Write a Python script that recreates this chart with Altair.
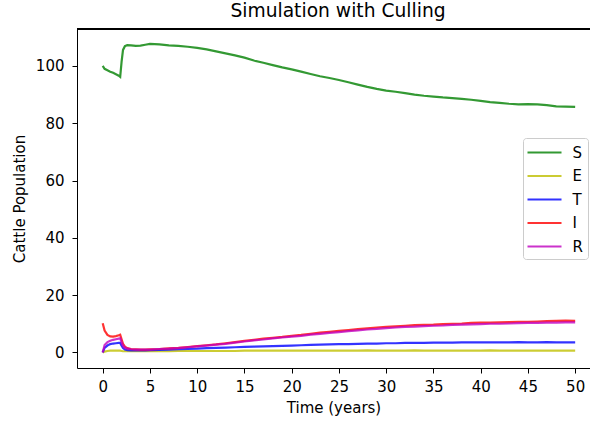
import altair as alt
import pandas as pd

# time grid (years)
t_early = [0, 0.2, 0.5, 0.8, 1.1, 1.4, 1.7, 1.85, 2.0, 2.15, 2.35, 2.6, 3.0, 3.5, 4.0, 4.5]
t_late = [5, 6, 7, 8, 9, 10, 11, 12, 13, 14, 15, 16, 17, 18, 19, 20, 21, 22, 23, 24,
          25, 26, 27, 28, 29, 30, 31, 32, 33, 34, 35, 36, 37, 38, 39, 40, 41, 42, 43, 44,
          45, 46, 47, 48, 49, 50]
t_vals = t_early + t_late

S_vals = [100, 99.0, 98.5, 98.0, 97.6, 97.1, 96.6, 96.2, 101.5, 105.6, 106.9, 107.3, 107.2, 107.0, 107.1, 107.4,
          107.7, 107.5, 107.2, 107.0, 106.7, 106.3, 105.8, 105.1, 104.4, 103.7,
          102.9, 101.9, 101.1, 100.3, 99.5, 98.8, 98.0, 97.2, 96.4, 95.8,
          95.1, 94.3, 93.5, 92.7, 92.0, 91.4, 91.0, 90.5, 90.0, 89.6,
          89.3, 89.0, 88.8, 88.5, 88.2, 87.8, 87.4, 87.1, 86.8, 86.6,
          86.7, 86.6, 86.3, 85.9, 85.8, 85.7]
E_vals = [0.0, 0.3, 0.5, 0.6, 0.6, 0.6, 0.6, 0.6, 0.5, 0.4, 0.4, 0.4, 0.4, 0.4, 0.4, 0.4,
          0.4, 0.4, 0.4, 0.5, 0.5, 0.5, 0.5, 0.5, 0.5, 0.5,
          0.6, 0.6, 0.6, 0.6, 0.6, 0.6, 0.6, 0.6, 0.6, 0.6,
          0.6, 0.6, 0.6, 0.7, 0.6, 0.6, 0.6, 0.6, 0.7, 0.6,
          0.6, 0.6, 0.6, 0.6, 0.6, 0.6, 0.7, 0.6, 0.6, 0.6,
          0.6, 0.6, 0.6, 0.6, 0.6, 0.6]
T_vals = [0.0, 1.6, 2.4, 2.9, 3.1, 3.2, 3.3, 3.3, 2.3, 1.5, 1.0, 0.8, 0.7, 0.7, 0.7, 0.7,
          0.8, 0.9, 1.0, 1.1, 1.2, 1.3, 1.5, 1.6, 1.7, 1.8,
          1.9, 2.0, 2.1, 2.2, 2.3, 2.4, 2.5, 2.6, 2.7, 2.8,
          2.9, 2.9, 3.0, 3.1, 3.1, 3.2, 3.2, 3.3, 3.3, 3.3,
          3.4, 3.4, 3.4, 3.5, 3.5, 3.5, 3.5, 3.5, 3.5, 3.6,
          3.5, 3.5, 3.6, 3.5, 3.5, 3.5]
I_vals = [10.2, 7.6, 6.1, 5.6, 5.5, 5.7, 6.0, 6.2, 4.6, 3.0, 2.0, 1.5, 1.2, 1.1, 1.0, 1.0,
          1.1, 1.2, 1.4, 1.6, 1.9, 2.2, 2.5, 2.8, 3.2, 3.6,
          4.0, 4.4, 4.8, 5.1, 5.4, 5.8, 6.1, 6.5, 6.9, 7.2,
          7.5, 7.8, 8.1, 8.4, 8.7, 8.9, 9.1, 9.3, 9.5, 9.6,
          9.7, 9.9, 10.0, 10.1, 10.3, 10.4, 10.4, 10.5, 10.6, 10.7,
          10.7, 10.8, 10.9, 11.0, 11.1, 11.0]
R_vals = [0.0, 2.6, 3.6, 4.1, 4.4, 4.6, 4.8, 4.9, 3.6, 2.3, 1.6, 1.3, 1.1, 1.0, 1.0, 1.0,
          1.0, 1.2, 1.3, 1.5, 1.8, 2.1, 2.4, 2.7, 3.0, 3.4,
          3.8, 4.2, 4.5, 4.9, 5.2, 5.5, 5.8, 6.2, 6.5, 6.8,
          7.1, 7.4, 7.7, 8.0, 8.2, 8.5, 8.7, 8.9, 9.0, 9.2,
          9.3, 9.4, 9.6, 9.7, 9.8, 9.9, 10.0, 10.0, 10.1, 10.2,
          10.3, 10.3, 10.4, 10.4, 10.5, 10.5]

series_names = ["S", "E", "T", "I", "R"]
series_colors = ["#008000", "#bfbf00", "#0000ff", "#ff0000", "#bf00bf"]
series_data = [S_vals, E_vals, T_vals, I_vals, R_vals]

x_ticks = [0, 5, 10, 15, 20, 25, 30, 35, 40, 45, 50]
y_ticks = [0, 20, 40, 60, 80, 100]

rows = []
for name, vals in zip(series_names, series_data):
    for tt, v in zip(t_vals, vals):
        rows.append({"t": tt, "value": v, "series": name})
df = pd.DataFrame(rows)

FONT = "DejaVu Sans"
W, H = 513, 339

color_scale = alt.Scale(domain=series_names, range=series_colors)
x_enc = alt.X("t:Q", scale=alt.Scale(domain=[-2.72, 51.57], nice=False, zero=False),
              axis=alt.Axis(values=x_ticks, title="Time (years)", format="d"))
y_enc = alt.Y("value:Q", scale=alt.Scale(domain=[-5.44, 112.9], nice=False, zero=False),
              axis=alt.Axis(values=y_ticks, title="Cattle Population", format="d"))

layers = []
for name in series_names:
    layers.append(
        alt.Chart(df).transform_filter(alt.datum.series == name)
        .mark_line(strokeWidth=2.2, strokeOpacity=0.8)
        .encode(
            x=x_enc, y=y_enc,
            color=alt.Color("series:N", scale=color_scale, sort=series_names,
                            legend=alt.Legend(title=None, orient="none", legendX=446, legendY=109,
                                              symbolType="M-2,0H2", symbolSize=289,
                                              symbolStrokeWidth=2.2, symbolOpacity=0.8,
                                              symbolOffset=7, labelOffset=18,
                                              labelFontSize=15, labelFont=FONT, labelColor="black",
                                              rowPadding=5.5, padding=4.5,
                                              fillColor="white", strokeColor="#cccccc",
                                              cornerRadius=3)),
        )
    )

top_spine = alt.Chart(df).mark_rule(color="black", strokeWidth=1).encode(
    x=alt.value(0), x2=alt.value(W), y=alt.value(0)
)

chart = alt.layer(*layers, top_spine).properties(
    width=W, height=H,
    autosize=alt.AutoSizeParams(type="none"),
    padding={"left": 77, "top": 29, "right": 0, "bottom": 57},
    title=alt.TitleParams("Simulation with Culling", fontSize=18.7, font=FONT, fontWeight="normal",
                          color="black", anchor="middle", dx=4.5, dy=7, offset=0, baseline="alphabetic"),
).configure_view(stroke=None).configure_axis(
    grid=False, labelFont=FONT, labelFontSize=15, labelColor="black",
    titleFont=FONT, titleFontSize=15, titleFontWeight="normal", titleColor="black",
    domainColor="black", domainWidth=1, tickColor="black", tickWidth=1, tickSize=5,
    labelFlush=False,
).configure_axisX(labelPadding=6, titlePadding=6).configure_axisY(labelPadding=8, titlePadding=8)

chart.save("out.html", embed_options={"renderer": "svg", "actions": False})
